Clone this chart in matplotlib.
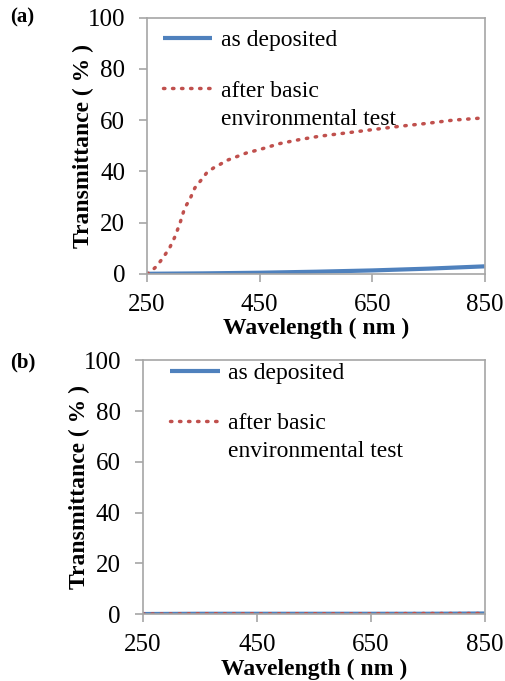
import matplotlib
matplotlib.use("Agg")
from matplotlib import pyplot as plt

plt.rcParams['font.family'] = 'serif'
plt.rcParams['font.serif'] = ['Liberation Serif', 'DejaVu Serif']

# panel (a) data
wl_a = [250, 255, 267, 278, 290, 300, 309, 317, 326, 335, 347, 356, 368, 379, 391,
        403, 427, 450, 485, 521, 556, 604, 651, 699, 746, 794, 850]
after_a = [0.0, 0.5, 2.9, 6.1, 10.0, 14.6, 20.0, 25.7, 29.0, 33.5, 36.8, 39.4, 41.3,
           42.6, 44.2, 45.2, 47.2, 48.5, 50.8, 52.4, 53.7, 55.0, 56.3, 57.6, 58.7,
           60.0, 60.9]
wl_dep = [250, 350, 450, 550, 650, 750, 850]
dep_a = [0.0, 0.15, 0.4, 0.8, 1.3, 2.0, 2.9]

# panel (b) data
dep_b = [0.1, 0.2, 0.2, 0.2, 0.2, 0.2, 0.3]
after_b = [0.1, 0.2, 0.2, 0.2, 0.2, 0.3, 0.3]

xticks = [250, 450, 650, 850]
yticks = [0, 20, 40, 60, 80, 100]

blue = '#4F81BD'
red = '#C0504D'
grey = '#A6A6A6'


def style(ax, anchor):
    ax.set_xlim(250, 850)
    ax.set_ylim(0, 100)
    ax.set_xticks(xticks)
    ax.set_yticks(yticks)
    for s in ax.spines.values():
        s.set_color(grey)
        s.set_linewidth(1.2)
    ax.tick_params(direction='out', length=5.8, width=1.2, color=grey, labelsize=18)
    ax.tick_params(axis='y', pad=10)
    ax.tick_params(axis='x', pad=8.6)
    ax.set_xlabel('Wavelength ( nm )', fontsize=17, fontweight='bold', labelpad=1.5)
    ax.set_ylabel('Transmittance ( % )', fontsize=17, fontweight='bold', labelpad=-5)
    leg = ax.legend(loc='upper left', bbox_to_anchor=anchor, frameon=False,
                    fontsize=17, handlelength=2.1, handletextpad=0.38,
                    labelspacing=1.22, borderaxespad=0, borderpad=0)
    # second line of the red label, handle stays on the first line
    ax.annotate('environmental test', xy=(0, 0), xycoords=leg.get_texts()[1],
                xytext=(0, -28), textcoords='offset pixels', fontsize=17,
                ha='left', va='bottom', zorder=6)


fig = plt.figure(figsize=(5.05, 6.81), dpi=100)

ax1 = fig.add_axes([0.291, 0.598, 0.669, 0.376])
ax1.plot(wl_dep, dep_a, color=blue, lw=3, label='as deposited', solid_capstyle='butt')
ax1.plot(wl_a, after_a, color=red, lw=2.5, ls=(0, (0.4, 2.2)), dash_capstyle='round',
         label='after basic')
style(ax1, (0.047, 0.953))

ax2 = fig.add_axes([0.283, 0.098, 0.677, 0.373])
ax2.plot(wl_dep, dep_b, color=blue, lw=3, label='as deposited', solid_capstyle='butt')
ax2.plot(wl_dep, after_b, color=red, lw=2.5, ls=(0, (0.4, 2.2)), dash_capstyle='round',
         label='after basic')
style(ax2, (0.079, 0.992))

fig.text(0.02, 0.975, '(a)', fontsize=15, fontweight='bold', va='center')
fig.text(0.02, 0.468, '(b)', fontsize=15, fontweight='bold', va='center')

fig.savefig('out.png', dpi=100)
